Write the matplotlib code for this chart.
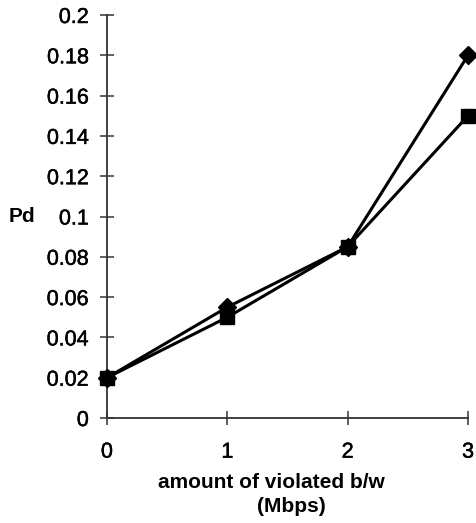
import matplotlib
matplotlib.use("Agg")
import matplotlib.pyplot as plt
import matplotlib.patheffects as pe

# Violated bandwidth (Mbps) and detection probability for two schemes
x_values = [0, 1, 2, 3]
pd_diamond = [0.02, 0.055, 0.085, 0.18]
pd_square = [0.02, 0.05, 0.085, 0.15]
y_ticks = [0, 0.02, 0.04, 0.06, 0.08, 0.1, 0.12, 0.14, 0.16, 0.18, 0.2]
y_tick_labels = ["0", "0.02", "0.04", "0.06", "0.08", "0.1", "0.12", "0.14", "0.16", "0.18", "0.2"]
x_ticks = [0, 1, 2, 3]

plt.rcParams["font.family"] = ["Liberation Sans", "DejaVu Sans"]

W, H = 476, 523
fig = plt.figure(figsize=(W / 100, H / 100), dpi=100)
left, right, bottom, top = 107, 468, 418, 15
ax = fig.add_axes([left / W, (H - bottom) / H, (right - left) / W, (bottom - top) / H])

ax.plot(x_values, pd_square, color="black", lw=2.2, marker="s", ms=10,
        clip_on=False, zorder=3)
ax.plot(x_values, pd_diamond, color="black", lw=2.2, marker="D", ms=9,
        clip_on=False, zorder=4)

ax.set_xlim(0, 3)
ax.set_ylim(0, 0.2)
ax.set_xticks(x_ticks)
ax.set_yticks(y_ticks)
ax.set_yticklabels(y_tick_labels)

for side in ("top", "right"):
    ax.spines[side].set_visible(False)
for side in ("left", "bottom"):
    ax.spines[side].set_color("#333333")
    ax.spines[side].set_linewidth(1.3)

ax.tick_params(axis="both", direction="inout", length=10, width=1.1,
               color="#333333", labelsize=15.5, labelcolor="black")
ax.tick_params(axis="y", pad=8)
ax.tick_params(axis="x", pad=12)

# slightly heavier tick labels
heavy = [pe.withStroke(linewidth=0.35, foreground="black")]
for lbl in ax.get_xticklabels() + ax.get_yticklabels():
    lbl.set_path_effects(heavy)

fig.text(22 / W, 1 - 216 / H, "Pd", fontsize=15, fontweight="bold",
         ha="center", va="center")
fig.text(271 / W, 1 - 482 / H, "amount of violated b/w", fontsize=15,
         fontweight="bold", ha="center", va="center")
fig.text(291 / W, 1 - 506 / H, "(Mbps)", fontsize=15,
         fontweight="bold", ha="center", va="center")

fig.savefig("out.png", dpi=100)
